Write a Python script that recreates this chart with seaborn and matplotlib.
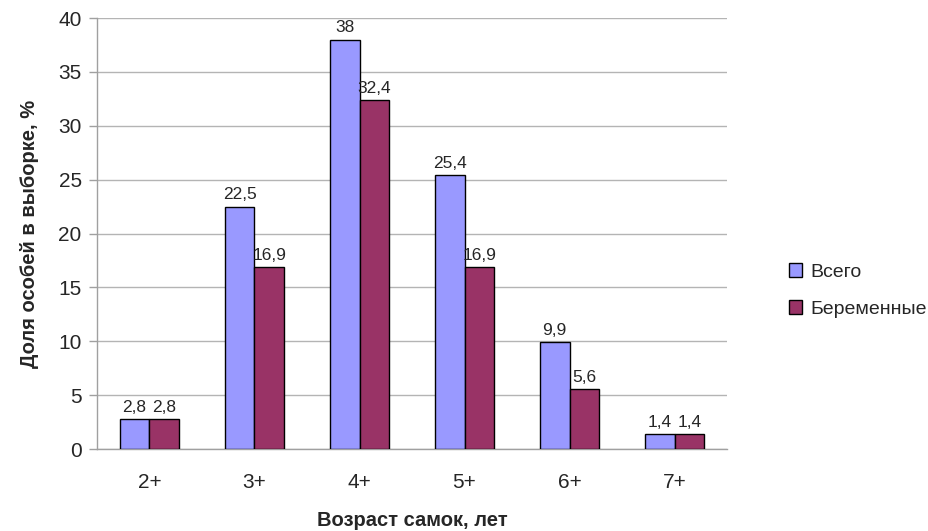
import pandas as pd
import seaborn as sns
import matplotlib.pyplot as plt

# данные
vozrast = ['2+', '3+', '4+', '5+', '6+', '7+']
vsego = [2.8, 22.5, 38, 25.4, 9.9, 1.4]
beremennye = [2.8, 16.9, 32.4, 16.9, 5.6, 1.4]

df = pd.DataFrame({'Возраст': vozrast, 'Всего': vsego, 'Беременные': beremennye})
df_melt = df.melt(id_vars='Возраст', var_name='Группа', value_name='Доля')

sns.set_style("white")
plt.rcParams['font.family'] = ['Liberation Sans', 'DejaVu Sans']

fig = plt.figure(figsize=(9.29, 5.31), dpi=100)
ax = fig.add_axes([0.1044, 0.1544, 0.6782, 0.8116])

sns.barplot(data=df_melt, x='Возраст', y='Доля', hue='Группа',
            palette=['#9999FF', '#993366'], saturation=1, width=0.57, gap=0,
            edgecolor='black', linewidth=1, ax=ax, zorder=3)

# подписи над столбцами
for cont in ax.containers:
    labels = [('%g' % v).replace('.', ',') for v in cont.datavalues]
    ax.bar_label(cont, labels=labels, padding=3, fontsize=12.5)

ax.set_ylim(0, 40)
ax.set_xlim(-0.5, 5.5)
ax.set_yticks(range(0, 41, 5))
ax.yaxis.grid(True, color='#B4B4B4', linewidth=1, zorder=0)
ax.set_axisbelow(True)

# засечки между категориями, как в Excel
ax.set_xticks([i + 0.5 for i in range(-1, 6)], minor=True)
ax.tick_params(axis='x', which='minor', length=7, color='#A0A0A0', width=1)
ax.tick_params(axis='x', which='major', length=0, labelsize=15, pad=17)
ax.tick_params(axis='y', which='major', length=6, color='#A0A0A0', width=1,
               left=True, labelsize=15, pad=5)

for side in ['top', 'right']:
    ax.spines[side].set_visible(False)
for side in ['left', 'bottom']:
    ax.spines[side].set_color('#A0A0A0')
    ax.spines[side].set_linewidth(1)

ax.set_xlabel('Возраст самок, лет', fontsize=14.5, fontweight='bold', labelpad=14)
ax.set_ylabel('Доля особей в выборке, %', fontsize=14.5, fontweight='bold', labelpad=14)

ax.legend(title=None, frameon=False, loc='center left', bbox_to_anchor=(1.07, 0.368),
          fontsize=14, handlelength=0.7, handleheight=0.7, labelspacing=1.0,
          handletextpad=0.4)

plt.savefig('out.png', dpi=100)
